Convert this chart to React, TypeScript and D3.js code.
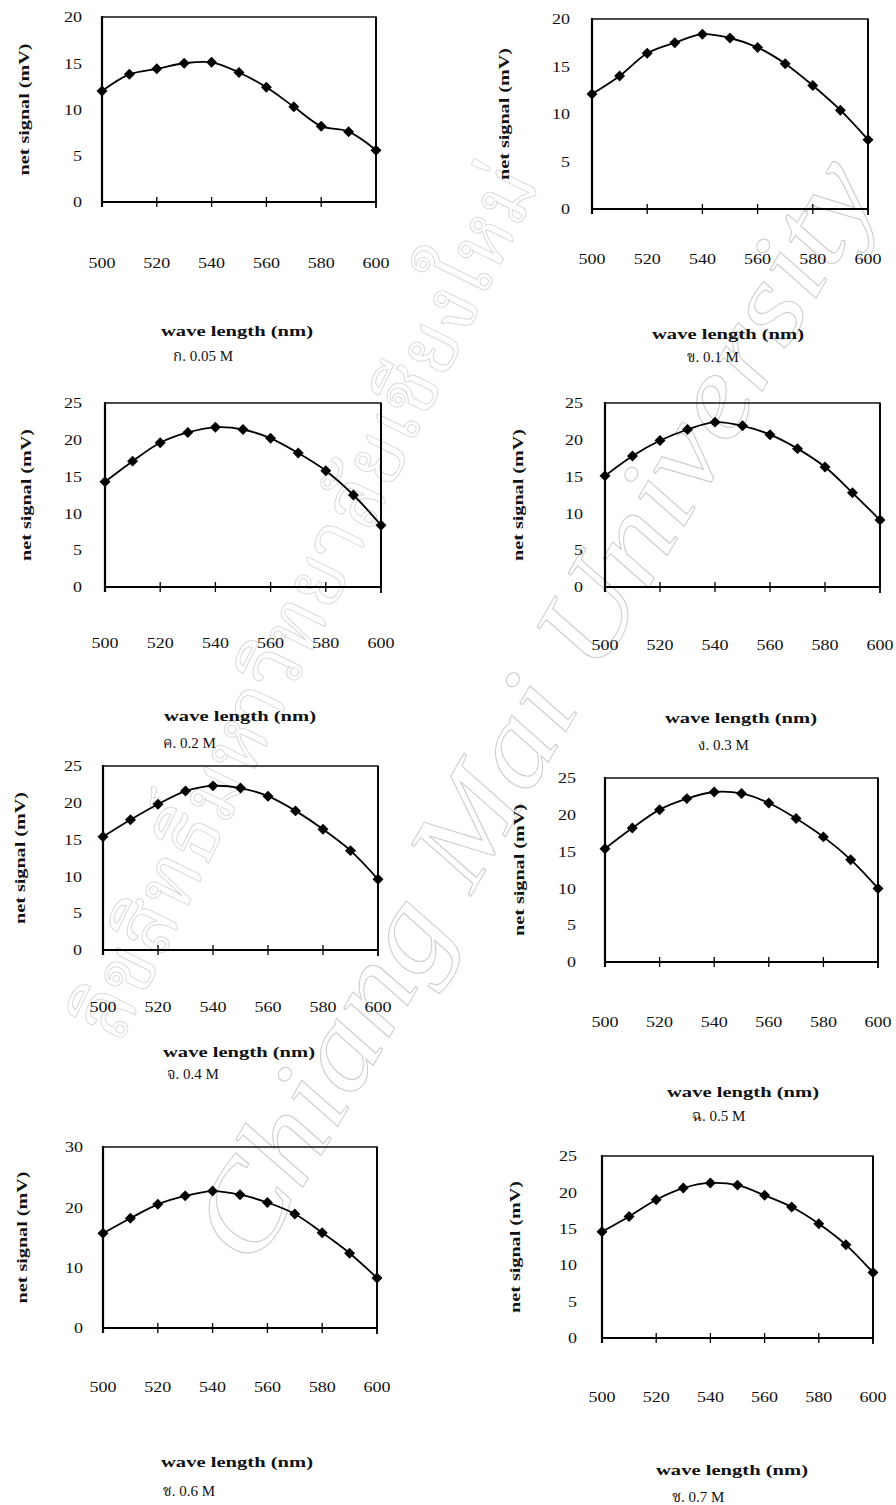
import React from "react";
import * as d3 from "d3";

// Wavelengths scanned (nm) and the axis ticks shown under each plot
const WAVELENGTHS = [500, 510, 520, 530, 540, 550, 560, 570, 580, 590, 600];
const X_TICKS = [500, 520, 540, 560, 580, 600];

// Net signal (mV) per wavelength for each concentration
const SIGNAL_005 = [12.0, 13.8, 14.4, 15.0, 15.1, 14.0, 12.4, 10.3, 8.2, 7.6, 5.6];
const SIGNAL_01 = [12.1, 14.0, 16.4, 17.5, 18.4, 18.0, 17.0, 15.3, 13.0, 10.4, 7.3];
const SIGNAL_02 = [14.3, 17.1, 19.6, 21.0, 21.7, 21.4, 20.2, 18.2, 15.8, 12.5, 8.4];
const SIGNAL_03 = [15.1, 17.8, 19.9, 21.4, 22.4, 21.9, 20.7, 18.8, 16.3, 12.8, 9.1];
const SIGNAL_04 = [15.4, 17.7, 19.8, 21.6, 22.3, 22.0, 20.9, 18.9, 16.4, 13.5, 9.6];
const SIGNAL_05 = [15.4, 18.2, 20.7, 22.2, 23.1, 22.9, 21.6, 19.5, 17.0, 13.9, 10.0];
const SIGNAL_06 = [15.7, 18.2, 20.5, 21.9, 22.7, 22.1, 20.8, 18.9, 15.8, 12.4, 8.3];
const SIGNAL_07 = [14.6, 16.7, 19.0, 20.6, 21.3, 21.0, 19.6, 18.0, 15.7, 12.8, 9.0];

// Y tick sets
const TICKS_20 = [0, 5, 10, 15, 20];
const TICKS_25 = [0, 5, 10, 15, 20, 25];
const TICKS_30 = [0, 10, 20, 30];

// Sub-figure captions
const CAPTIONS = ["ก. 0.05 M", "ข. 0.1 M", "ค. 0.2 M", "ง. 0.3 M", "จ. 0.4 M", "ฉ. 0.5 M", "ช. 0.6 M", "ซ. 0.7 M"];

const X_TITLE = "wave length (nm)";
const Y_TITLE = "net signal (mV)";

// Background watermark lines
const WATERMARK_EN = "Chiang Mai University";
const WATERMARK_TH = "ลิขสิทธิ์มหาวิทยาลัยเชียงใหม่";

const SERIES = [SIGNAL_005, SIGNAL_01, SIGNAL_02, SIGNAL_03, SIGNAL_04, SIGNAL_05, SIGNAL_06, SIGNAL_07];
const Y_TICK_SETS = [TICKS_20, TICKS_20, TICKS_25, TICKS_25, TICKS_25, TICKS_25, TICKS_30, TICKS_25];

// Placement of each small plot on the page
const FRAMES = [
  { left: 102, right: 376, top: 17, bottom: 202, tickBase: 268, titleBase: 336, capBase: 361, titleCx: 237, capX: 173, yTitleCx: 24, gap: 20 },
  { left: 592, right: 868, top: 19, bottom: 209, tickBase: 264, titleBase: 339, capBase: 362, titleCx: 728, capX: 687, yTitleCx: 504, gap: 22 },
  { left: 105, right: 381, top: 403, bottom: 587, tickBase: 648, titleBase: 721, capBase: 748, titleCx: 240, capX: 163, yTitleCx: 26, gap: 23 },
  { left: 605, right: 880, top: 403, bottom: 587, tickBase: 650, titleBase: 723, capBase: 750, titleCx: 741, capX: 698, yTitleCx: 518, gap: 22 },
  { left: 103, right: 378, top: 766, bottom: 950, tickBase: 1012, titleBase: 1057, capBase: 1079, titleCx: 239, capX: 167, yTitleCx: 20, gap: 21 },
  { left: 605, right: 878, top: 778, bottom: 962, tickBase: 1027, titleBase: 1097, capBase: 1121, titleCx: 743, capX: 692, yTitleCx: 519, gap: 29 },
  { left: 103, right: 377, top: 1147, bottom: 1328, tickBase: 1392, titleBase: 1467, capBase: 1496, titleCx: 237, capX: 163, yTitleCx: 22, gap: 20 },
  { left: 602, right: 873, top: 1156, bottom: 1338, tickBase: 1402, titleBase: 1475, capBase: 1502, titleCx: 732, capX: 672, yTitleCx: 515, gap: 25 },
];

const FONT = "'Liberation Serif', 'Times New Roman', serif";
const THAI_FONT = "'Liberation Serif', 'Noto Serif Thai', 'Noto Sans Thai', 'Loma', 'Garuda', serif";

const diamond = d3.symbol().type(d3.symbolSquare).size(60)() as string;

function Panel({ index }: { index: number }) {
  const f = FRAMES[index];
  const values = SERIES[index];
  const yTicks = Y_TICK_SETS[index];
  const x = d3.scaleLinear().domain([500, 600]).range([f.left, f.right]);
  const y = d3.scaleLinear().domain([0, yTicks[yTicks.length - 1]]).range([f.bottom, f.top]);
  const pts = WAVELENGTHS.map((w, i) => [w, values[i]] as [number, number]);
  const line = d3
    .line<[number, number]>()
    .x((d) => x(d[0]))
    .y((d) => y(d[1]))
    .curve(d3.curveCatmullRom.alpha(0.5));
  const midY = (f.top + f.bottom) / 2;

  return (
    <g>
      {/* plot frame */}
      <rect x={f.left} y={f.top} width={f.right - f.left} height={f.bottom - f.top} fill="none" stroke="#111" strokeWidth={1.5} />
      <line x1={f.left} x2={f.left} y1={f.top - 1} y2={f.bottom + 5} stroke="#000" strokeWidth={2.2} />
      <line x1={f.right} x2={f.right} y1={f.top} y2={f.bottom + 6} stroke="#000" strokeWidth={1.8} />
      <line x1={f.left} x2={f.right} y1={f.bottom} y2={f.bottom} stroke="#000" strokeWidth={2} />

      {/* x ticks crossing the axis */}
      {X_TICKS.slice(1, -1).map((t) => (
        <line key={t} x1={x(t)} x2={x(t)} y1={f.bottom - 5} y2={f.bottom + 5} stroke="#000" strokeWidth={1.3} />
      ))}

      {/* x tick labels */}
      {X_TICKS.map((t) => (
        <text key={t} x={x(t)} y={f.tickBase} textAnchor="middle" fontFamily={FONT} fontSize={15}
          textLength={27} lengthAdjust="spacingAndGlyphs" fill="#111">
          {t}
        </text>
      ))}

      {/* y tick labels */}
      {yTicks.map((t) => (
        <text key={t} x={f.left - f.gap} y={y(t)} dy="0.35em" textAnchor="end" fontFamily={FONT} fontSize={15}
          textLength={String(t).length * 9} lengthAdjust="spacingAndGlyphs" fill="#111">
          {t}
        </text>
      ))}

      {/* data line and markers */}
      <path d={line(pts) as string} fill="none" stroke="#000" strokeWidth={1.8} />
      {pts.map((p) => (
        <path key={p[0]} d={diamond} transform={`translate(${x(p[0])},${y(p[1])}) rotate(45)`} fill="#000" />
      ))}

      {/* axis titles */}
      <text transform={`translate(${f.yTitleCx},${midY}) rotate(-90)`} textAnchor="middle" dominantBaseline="central"
        fontFamily={FONT} fontWeight="bold" fontSize={15} textLength={132} lengthAdjust="spacingAndGlyphs" fill="#111">
        {Y_TITLE}
      </text>
      <text x={f.titleCx} y={f.titleBase} textAnchor="middle" fontFamily={FONT} fontWeight="bold" fontSize={15}
        textLength={152} lengthAdjust="spacingAndGlyphs" fill="#111">
        {X_TITLE}
      </text>
      <text x={f.capX} y={f.capBase} fontFamily={THAI_FONT} fontSize={15} fill="#111">
        {CAPTIONS[index]}
      </text>
    </g>
  );
}

export default function App() {
  return (
    <svg width={896} height={1505} viewBox="0 0 896 1505"
      style={{ position: "absolute", left: 0, top: 0, background: "#fff", display: "block" }}>
      <rect width={896} height={1505} fill="#fff" />
      {/* faint outlined watermark lines running diagonally across the page */}
      <text transform="translate(255,1270) rotate(-60)" fontFamily="'Liberation Serif', serif" fontStyle="italic"
        fontSize={118} fill="none" stroke="#cdcdcd" strokeWidth={1} textLength={1250} lengthAdjust="spacingAndGlyphs">
        {WATERMARK_EN}
      </text>
      <text transform="translate(120,1045) rotate(-64)" fontFamily={THAI_FONT}
        fontSize={82} fill="none" stroke="#dadada" strokeWidth={1} textLength={960} lengthAdjust="spacingAndGlyphs">
        {WATERMARK_TH}
      </text>
      {FRAMES.map((_, i) => (
        <Panel key={i} index={i} />
      ))}
    </svg>
  );
}
